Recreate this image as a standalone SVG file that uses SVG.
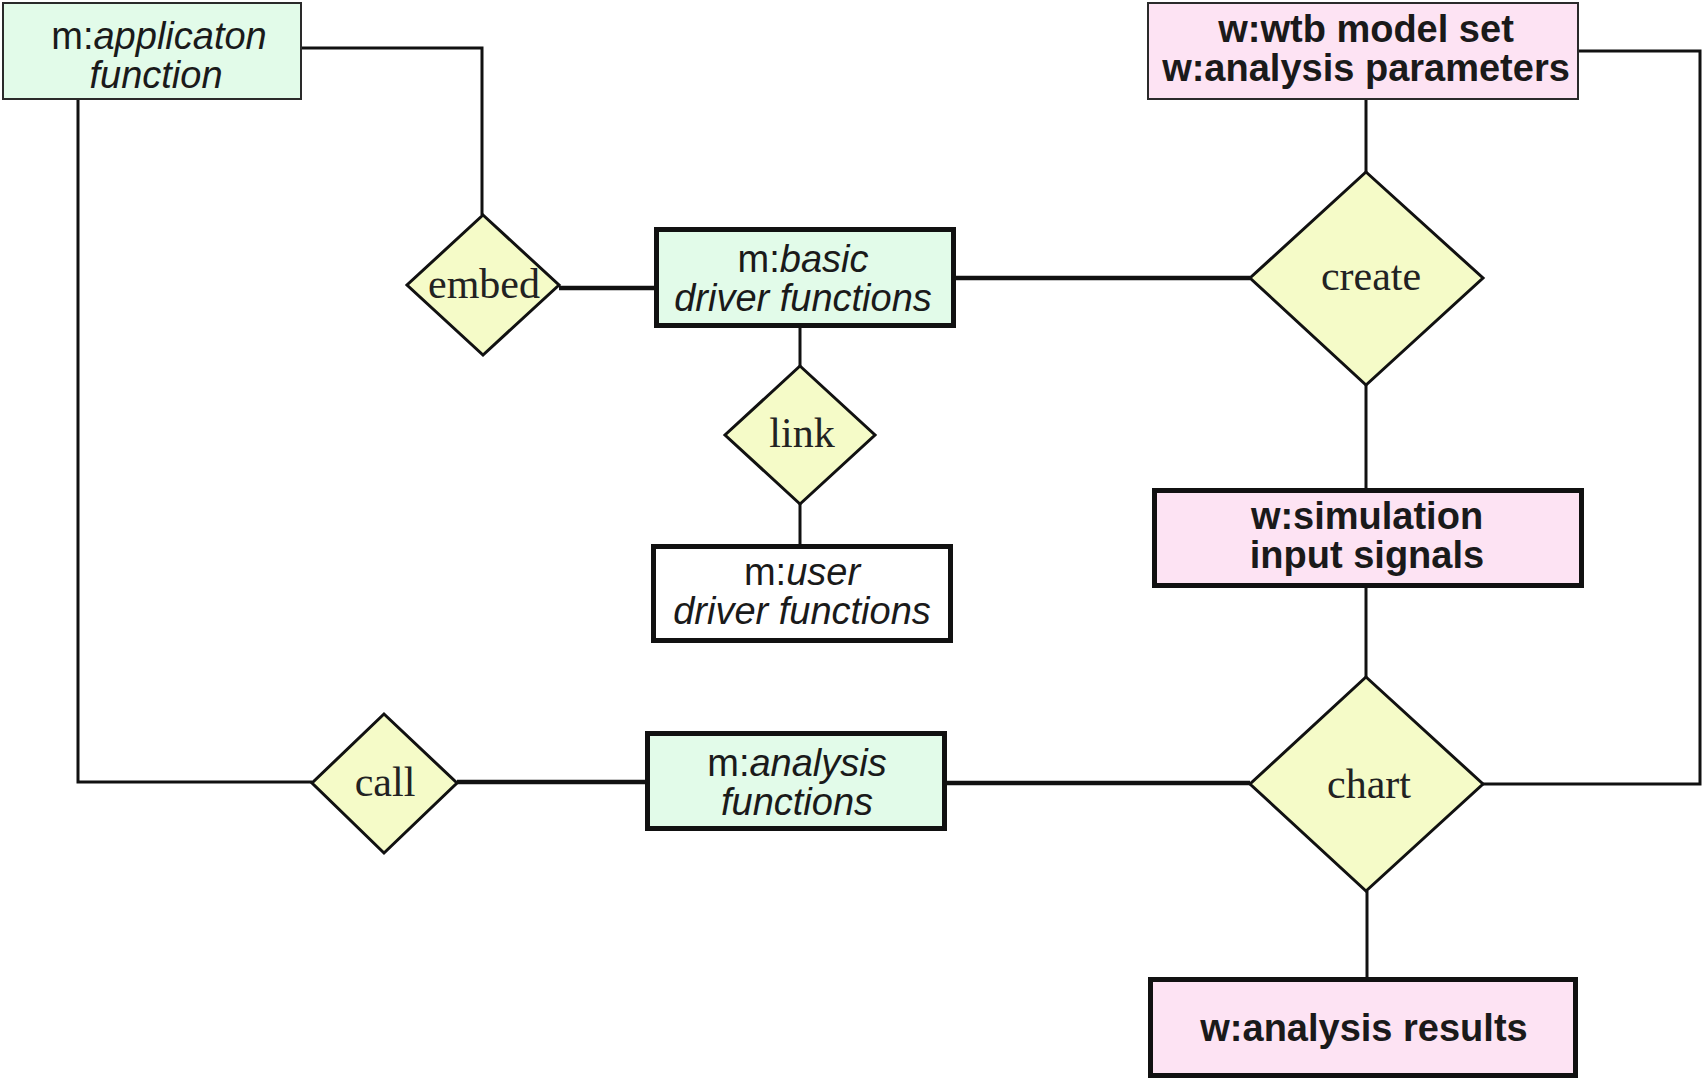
<svg xmlns="http://www.w3.org/2000/svg" width="1703" height="1080" viewBox="0 0 1703 1080">
  <style>
    .fill-g { fill: #e2fbe9; }
    .fill-p { fill: #fde3f3; }
    .fill-w { fill: #ffffff; }
    .thin { stroke: #2a2a2a; stroke-width: 2; }
    .thick { stroke: #111111; stroke-width: 5; }
    .dia { fill: #f5fbc8; stroke: #111111; stroke-width: 3; stroke-linejoin: miter; }
    .wire { fill: none; stroke: #111111; stroke-width: 3; }
    .heavy { stroke-width: 4.5; }
    .lbl { font-family: "Liberation Sans", Arial, sans-serif; font-size: 38px; fill: #1a1a1a; text-anchor: middle; }
    .b { font-weight: bold; }
    .it { font-style: italic; }
    .op { font-family: "Liberation Serif", "Times New Roman", serif; font-size: 42px; fill: #222222; text-anchor: middle; }
  </style>

  <rect x="0" y="0" width="1703" height="1080" fill="#ffffff"/>

  <!-- connectors -->
  <g id="connectors">
    <path class="wire" d="M301,48 H482 V215"/>
    <path class="wire" d="M78,99 V782 H312"/>
    <path class="wire heavy" d="M559,288 H654"/>
    <path class="wire heavy" d="M956,278 H1250"/>
    <path class="wire" d="M800,328 V366"/>
    <path class="wire" d="M800,504 V544"/>
    <path class="wire" d="M1366,99 V172"/>
    <path class="wire" d="M1366,385 V488"/>
    <path class="wire" d="M1366,588 V677"/>
    <path class="wire" d="M1367,891 V977"/>
    <path class="wire" d="M1483,784 H1700 V51 H1578"/>
    <path class="wire heavy" d="M457,782 H645"/>
    <path class="wire heavy" d="M947,783 H1250"/>
  </g>

  <!-- m:applicaton function -->
  <g id="app-function">
    <rect class="fill-g thin" x="3" y="3" width="298" height="96"/>
    <text class="lbl" x="159" y="49">m:<tspan class="it">applicaton</tspan></text>
    <text class="lbl it" x="156" y="88">function</text>
  </g>

  <!-- w:wtb model set / w:analysis parameters -->
  <g id="wtb-model">
    <rect class="fill-p thin" x="1148" y="3" width="430" height="96"/>
    <text class="lbl b" x="1366" y="42">w:wtb model set</text>
    <text class="lbl b" x="1366" y="81">w:analysis parameters</text>
  </g>

  <!-- embed -->
  <g id="embed">
    <polygon class="dia" points="483,215 559,285 483,355 407,285"/>
    <text class="op" x="484" y="298">embed</text>
  </g>

  <!-- m:basic driver functions -->
  <g id="basic-driver">
    <rect class="fill-g thick" x="656.5" y="229.5" width="297" height="96"/>
    <text class="lbl" x="803" y="272">m:<tspan class="it">basic</tspan></text>
    <text class="lbl it" x="803" y="311">driver functions</text>
  </g>

  <!-- create -->
  <g id="create">
    <polygon class="dia" points="1366,172 1483,278 1366,385 1250,278"/>
    <text class="op" x="1371" y="290">create</text>
  </g>

  <!-- link -->
  <g id="link">
    <polygon class="dia" points="800,366 875,435 800,504 725,435"/>
    <text class="op" x="802" y="447">link</text>
  </g>

  <!-- m:user driver functions -->
  <g id="user-driver">
    <rect class="fill-w thick" x="653.5" y="546.5" width="297" height="94"/>
    <text class="lbl" x="802" y="585">m:<tspan class="it">user</tspan></text>
    <text class="lbl it" x="802" y="624">driver functions</text>
  </g>

  <!-- w:simulation input signals -->
  <g id="sim-input">
    <rect class="fill-p thick" x="1154.5" y="490.5" width="427" height="95"/>
    <text class="lbl b" x="1367" y="529">w:simulation</text>
    <text class="lbl b" x="1367" y="568">input signals</text>
  </g>

  <!-- call -->
  <g id="call">
    <polygon class="dia" points="384,714 457,783 384,853 312,783"/>
    <text class="op" x="385" y="796">call</text>
  </g>

  <!-- m:analysis functions -->
  <g id="analysis-functions">
    <rect class="fill-g thick" x="647.5" y="733.5" width="297" height="95"/>
    <text class="lbl" x="797" y="776">m:<tspan class="it">analysis</tspan></text>
    <text class="lbl it" x="797" y="815">functions</text>
  </g>

  <!-- chart -->
  <g id="chart">
    <polygon class="dia" points="1366,677 1483,784 1366,891 1250,784"/>
    <text class="op" x="1369" y="798">chart</text>
  </g>

  <!-- w:analysis results -->
  <g id="analysis-results">
    <rect class="fill-p thick" x="1150.5" y="979.5" width="425" height="96"/>
    <text class="lbl b" x="1364" y="1041">w:analysis results</text>
  </g>
</svg>
